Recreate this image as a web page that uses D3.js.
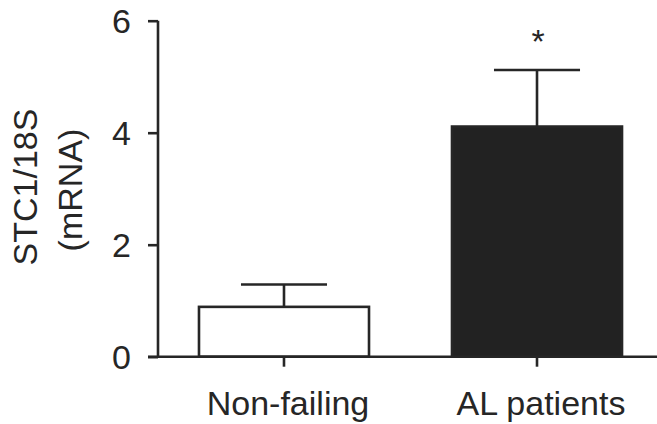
<!DOCTYPE html>
<html>
<head>
<meta charset="utf-8">
<script src="https://cdn.jsdelivr.net/npm/d3@7"></script>
<style>
  html, body { margin: 0; padding: 0; background: #fff; }
  svg { display: block; font-family: "Liberation Sans", Arial, Helvetica, sans-serif; }
</style>
</head>
<body>
<div id="chart"></div>
<script>
// --- data ---
const categories = ["Non-failing", "AL patients"];
const means = [0.89, 4.11];
const errors = [0.40, 1.01];
const marks = ["", "*"];
const barFills = ["#ffffff", "#222222"];
const yTicks = [0, 2, 4, 6];

const width = 657, height = 424;
const ink = "#262626";
const lineW = 2.6;
const fontSize = 34;

const svg = d3.select("#chart").append("svg")
    .attr("width", width)
    .attr("height", height);

const x = d3.scaleBand()
    .domain(categories)
    .range([158, 663])
    .paddingInner(0.328)
    .paddingOuter(0.162);

const y = d3.scaleLinear()
    .domain([0, 6])
    .range([356.7, 20.7]);

const rows = categories.map((c, i) => ({ cat: c, mean: means[i], err: errors[i], mark: marks[i], fill: barFills[i] }));

// --- bars ---
svg.selectAll("rect.bar")
    .data(rows)
    .join("rect")
    .attr("class", "bar")
    .attr("x", d => x(d.cat))
    .attr("y", d => y(d.mean))
    .attr("width", x.bandwidth())
    .attr("height", d => y(0) - y(d.mean))
    .attr("fill", d => d.fill)
    .attr("stroke", ink)
    .attr("stroke-width", lineW);

// --- error bars (upper only) ---
const cx = d => x(d.cat) + x.bandwidth() / 2;
const capHalf = x.bandwidth() * 0.253;

svg.selectAll("line.err")
    .data(rows)
    .join("line")
    .attr("class", "err")
    .attr("x1", cx).attr("x2", cx)
    .attr("y1", d => y(d.mean))
    .attr("y2", d => y(d.mean + d.err))
    .attr("stroke", ink)
    .attr("stroke-width", lineW);

svg.selectAll("line.cap")
    .data(rows)
    .join("line")
    .attr("class", "cap")
    .attr("x1", d => cx(d) - capHalf)
    .attr("x2", d => cx(d) + capHalf)
    .attr("y1", d => y(d.mean + d.err))
    .attr("y2", d => y(d.mean + d.err))
    .attr("stroke", ink)
    .attr("stroke-width", lineW);

// significance star
svg.selectAll("text.mark")
    .data(rows.filter(d => d.mark))
    .join("text")
    .attr("class", "mark")
    .attr("x", d => cx(d) + 1)
    .attr("y", d => y(d.mean + d.err) - 17)
    .attr("text-anchor", "middle")
    .attr("font-size", fontSize)
    .attr("fill", ink)
    .text(d => d.mark);

// --- y axis ---
const yAxis = svg.append("g")
    .attr("transform", "translate(158,0)")
    .call(d3.axisLeft(y).tickValues(yTicks).tickFormat(d3.format("d")).tickSize(10).tickPadding(17));
yAxis.select(".domain").attr("stroke", ink).attr("stroke-width", lineW)
    .attr("d", `M0,${y(6)}V${y(0)}`);
yAxis.selectAll(".tick line").attr("stroke", ink).attr("stroke-width", lineW);
yAxis.selectAll(".tick text")
    .attr("font-size", fontSize)
    .attr("font-family", "'Liberation Sans', Arial, sans-serif")
    .attr("fill", ink)
    .attr("dy", "0.36em");

// --- x axis ---
const xAxis = svg.append("g")
    .attr("transform", `translate(0,${y(0)})`)
    .call(d3.axisBottom(x).tickSize(10).tickFormat(""));
xAxis.select(".domain").attr("stroke", ink).attr("stroke-width", lineW)
    .attr("d", `M148,0H${width}`);
xAxis.selectAll(".tick line").attr("stroke", ink).attr("stroke-width", lineW);

svg.selectAll("text.xlabel")
    .data(categories)
    .join("text")
    .attr("class", "xlabel")
    .attr("x", d => x(d) + x.bandwidth() / 2 + 4)
    .attr("y", 415)
    .attr("text-anchor", "middle")
    .attr("font-size", fontSize)
    .attr("fill", ink)
    .text(d => d);

// --- y label ---
const yLab = svg.append("g").attr("transform", "translate(0,187) rotate(-90)");
yLab.append("text")
    .attr("x", 0).attr("y", 37)
    .attr("text-anchor", "middle")
    .attr("font-size", fontSize)
    .attr("fill", ink)
    .text("STC1/18S");
yLab.append("text")
    .attr("x", -3).attr("y", 82)
    .attr("text-anchor", "middle")
    .attr("font-size", fontSize)
    .attr("fill", ink)
    .text("(mRNA)");
</script>
</body>
</html>
